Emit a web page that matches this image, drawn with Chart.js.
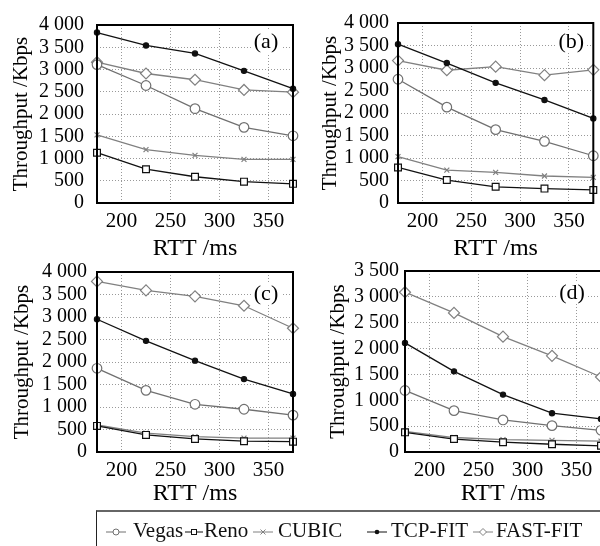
<!DOCTYPE html>
<html>
<head>
<meta charset="utf-8">
<script src="https://cdn.jsdelivr.net/npm/chart.js@4.4.1/dist/chart.umd.min.js"></script>
<style>
  html, body { margin: 0; padding: 0; background: #fff; }
  body { width: 600px; height: 546px; overflow: hidden; position: relative; font-family: "Liberation Serif", serif; }
  canvas { position: absolute; }
  .legend { position: absolute; left: 96px; top: 510px; width: 530px; height: 60px; border-top: 2px solid #666; border-left: 1px solid #222; }
  .legend svg, .legend span { position: absolute; }
  .legend svg { top: 14px; }
  .legend span { top: 6px; font-size: 21px; line-height: 24px; color: #111; white-space: nowrap; }
</style>
</head>
<body>
<canvas id="chart-a" width="300" height="265" style="left:0;top:0"></canvas>
<canvas id="chart-b" width="300" height="265" style="left:300px;top:0"></canvas>
<canvas id="chart-c" width="300" height="265" style="left:0;top:250px"></canvas>
<canvas id="chart-d" width="310" height="265" style="left:300px;top:250px"></canvas>

<div class="legend">
  <svg style="left:9px" width="20" height="12"><line x1="0" y1="6" x2="20" y2="6" stroke="#707070"/><circle cx="10" cy="6" r="3" fill="#fff" stroke="#707070"/></svg>
  <span style="left:36px">Vegas</span>
  <svg style="left:88px" width="18" height="12"><line x1="0" y1="6" x2="18" y2="6" stroke="#111"/><rect x="6.5" y="3.5" width="5" height="5" fill="#fff" stroke="#111"/></svg>
  <span style="left:107px">Reno</span>
  <svg style="left:156px" width="20" height="12"><line x1="0" y1="6" x2="20" y2="6" stroke="#808080"/><path d="M7.5 3.5 L12.5 8.5 M12.5 3.5 L7.5 8.5" stroke="#808080"/></svg>
  <span style="left:181px">CUBIC</span>
  <svg style="left:270px" width="20" height="12"><line x1="0" y1="6" x2="20" y2="6" stroke="#111"/><circle cx="10" cy="6" r="2.3" fill="#111"/></svg>
  <span style="left:294px">TCP-FIT</span>
  <svg style="left:376px" width="20" height="12"><line x1="0" y1="6" x2="20" y2="6" stroke="#808080"/><path d="M10 2.5 L13.5 6 L10 9.5 L6.5 6 Z" fill="#fff" stroke="#808080"/></svg>
  <span style="left:399px">FAST-FIT</span>
</div>

<script>
const rtt = [175, 225, 275, 325, 375];
const xTicks = [200, 250, 300, 350];
const seriesNames = ["Vegas", "Reno", "CUBIC", "TCP-FIT", "FAST-FIT"];

// (a)
const vegasA = [3110, 2640, 2120, 1700, 1510];
const renoA = [1130, 760, 590, 480, 430];
const cubicA = [1530, 1200, 1070, 980, 980];
const tcpfitA = [3830, 3540, 3360, 2970, 2570];
const fastfitA = [3165, 2910, 2770, 2540, 2490];

// (b)
const vegasB = [2750, 2130, 1630, 1370, 1050];
const renoB = [790, 510, 360, 320, 290];
const cubicB = [1030, 730, 680, 600, 570];
const tcpfitB = [3530, 3110, 2670, 2290, 1880];
const fastfitB = [3165, 2950, 3030, 2840, 2960];

// (c)
const vegasC = [1860, 1370, 1060, 950, 820];
const renoC = [580, 380, 290, 240, 230];
const cubicC = [600, 420, 340, 310, 310];
const tcpfitC = [2950, 2470, 2030, 1620, 1290];
const fastfitC = [3790, 3590, 3460, 3250, 2750];

// (d)
const vegasD = [1190, 800, 620, 510, 420];
const renoD = [380, 250, 190, 150, 120];
const cubicD = [400, 280, 240, 225, 210];
const tcpfitD = [2110, 1560, 1110, 750, 640];
const fastfitD = [3090, 2690, 2230, 1860, 1450];

const serif = '"Liberation Serif", "Times New Roman", serif';

const seriesStyles = [
  { color: "#707070", pointStyle: "circle", radius: 4.8, fill: "#fff" },
  { color: "#111", pointStyle: "rect", radius: 4.8, fill: "#fff" },
  { color: "#808080", pointStyle: "crossRot", radius: 3.5, fill: "#808080" },
  { color: "#111", pointStyle: "circle", radius: 2.6, fill: "#111" },
  { color: "#808080", pointStyle: "rectRot", radius: 5.5, fill: "#fff" },
];

function fmtThousands(v) {
  if (v < 1000) return String(v);
  return Math.floor(v / 1000) + " " + String(v % 1000).padStart(3, "0");
}

// box around the plot + the (a)/(b)... tag
const panelFrame = {
  id: "panelFrame",
  afterDatasetsDraw(chart, args, opts) {
    const { ctx, chartArea: a } = chart;
    ctx.save();
    ctx.font = "22px " + serif;
    ctx.textAlign = "center";
    ctx.textBaseline = "middle";
    const x = a.right - opts.dx;
    const y = a.top + opts.dy;
    ctx.fillStyle = "#fff";
    ctx.fillRect(x - 15, y - 11, 30, 22);
    ctx.fillStyle = "#000";
    ctx.fillText(opts.text, x, y);
    ctx.strokeStyle = "#000";
    ctx.lineWidth = 2;
    ctx.strokeRect(a.left, a.top, a.right - a.left, a.bottom - a.top);
    ctx.restore();
  },
};

function makePanel(id, tag, values, yMax, yAxisWidth, tickPad, titlePad, padding, xAxisHeight, tagPos) {
  return new Chart(document.getElementById(id), {
    type: "line",
    data: {
      labels: rtt,
      datasets: values.map((vals, i) => ({
        label: seriesNames[i],
        data: rtt.map((x, j) => ({ x: x, y: vals[j] })),
        borderColor: seriesStyles[i].color,
        borderWidth: 1.3,
        pointStyle: seriesStyles[i].pointStyle,
        pointRadius: seriesStyles[i].radius,
        pointBorderColor: seriesStyles[i].color,
        pointBackgroundColor: seriesStyles[i].fill,
        pointBorderWidth: 1.2,
        tension: 0,
        clip: false,
      })),
    },
    options: {
      responsive: false,
      animation: false,
      layout: { padding: padding },
      plugins: {
        legend: { display: false },
        tooltip: { enabled: false },
        panelFrame: { text: tag, dx: tagPos[0], dy: tagPos[1] },
      },
      scales: {
        x: {
          type: "linear",
          min: 175,
          max: 375,
          afterBuildTicks: (s) => { s.ticks = xTicks.map((v) => ({ value: v })); },
          afterFit: (s) => { s.height = xAxisHeight; },
          ticks: { autoSkip: false, padding: 6, color: "#000", font: { family: serif, size: 21 } },
          grid: { color: "#999", lineWidth: 1, drawTicks: false },
          border: { display: false, dash: [1, 2] },
          title: { display: true, text: "RTT /ms", color: "#000", font: { family: serif, size: 24 }, padding: { top: 0, bottom: 0 } },
        },
        y: {
          min: 0,
          max: yMax,
          afterFit: (s) => { s.width = yAxisWidth; },
          ticks: { autoSkip: false, stepSize: 500, padding: tickPad, color: "#000", font: { family: serif, size: 20 }, callback: fmtThousands },
          grid: { color: "#999", lineWidth: 1, drawTicks: false },
          border: { display: false, dash: [1, 2] },
          title: { display: true, text: "Throughput /Kbps", color: "#000", font: { family: serif, size: 21 }, padding: { top: titlePad, bottom: 0 } },
        },
      },
    },
    plugins: [panelFrame],
  });
}

makePanel("chart-a", "(a)", [vegasA, renoA, cubicA, tcpfitA, fastfitA], 4000, 97, 13, 9,
  { top: 23, right: 7, bottom: 2, left: 0 }, 60, [27, 17]);
makePanel("chart-b", "(b)", [vegasB, renoB, cubicB, tcpfitB, fastfitB], 4000, 98, 9, 18,
  { top: 23, right: 6, bottom: 2, left: 0 }, 60, [22, 19]);
makePanel("chart-c", "(c)", [vegasC, renoC, cubicC, tcpfitC, fastfitC], 4000, 97, 10, 10,
  { top: 21, right: 7, bottom: 7, left: 0 }, 56, [27, 22]);
makePanel("chart-d", "(d)", [vegasD, renoD, cubicD, tcpfitD, fastfitD], 3500, 105, 6, 26,
  { top: 21, right: 9, bottom: 7, left: 0 }, 56, [29, 22]);
</script>
</body>
</html>
